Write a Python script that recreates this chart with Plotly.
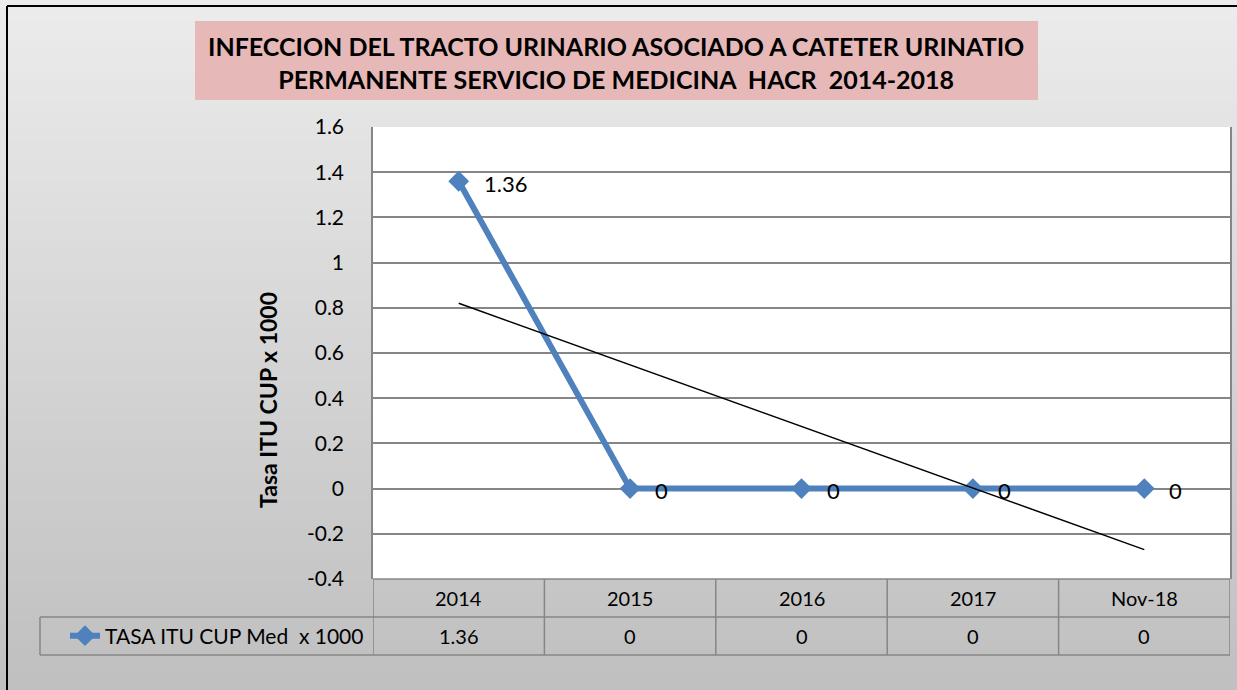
import plotly.graph_objects as go

# datos
categorias = ["2014", "2015", "2016", "2017", "Nov-18"]
tasa_itu = [1.36, 0, 0, 0, 0]
tendencia_x = ["2014", "Nov-18"]
tendencia_y = [0.82, -0.27]
ticks_y = [-0.4, -0.2, 0, 0.2, 0.4, 0.6, 0.8, 1, 1.2, 1.4, 1.6]
nombre_serie = "TASA ITU CUP Med \u00a0x 1000"
titulo = "INFECCION DEL TRACTO URINARIO ASOCIADO A CATETER URINATIO<br>PERMANENTE SERVICIO DE MEDICINA \u00a0HACR \u00a02014-2018"

W, H = 1237, 690
FONT = "Lato"
GRIS = "#868686"
AZUL = "#4f81bd"

def px(x): return x / W
def py(y): return 1 - y / H

fig = go.Figure()
fig.add_trace(go.Scatter(x=categorias, y=tasa_itu, mode="lines+markers", name=nombre_serie,
                         line=dict(color=AZUL, width=6), marker=dict(symbol="diamond", size=16, color=AZUL)))
fig.add_trace(go.Scatter(x=tendencia_x, y=tendencia_y, mode="lines", showlegend=False,
                         line=dict(color="black", width=1.5)))

shapes = []
# fondo degradado
n = 69
for i in range(n):
    t = i / (n - 1)
    c = int(236 - t * (236 - 192))
    shapes.append(dict(type="rect", xref="paper", yref="paper", x0=0, x1=1, y0=py((i + 1) * 10), y1=py(i * 10),
                       fillcolor=f"rgb({c},{c},{c})", line_width=0, layer="below"))
shapes.append(dict(type="rect", xref="paper", yref="paper", x0=px(373), x1=px(1230), y0=py(579), y1=py(127),
                   fillcolor="white", line_width=0, layer="below"))
# caja del titulo
shapes.append(dict(type="rect", xref="paper", yref="paper", x0=px(195), x1=px(1038), y0=py(100), y1=py(21),
                   fillcolor="#e6b8b7", line_width=0, layer="below"))
# borde exterior
shapes.append(dict(type="line", xref="paper", yref="paper", x0=px(7), x1=1, y0=py(6), y1=py(6), line=dict(color="black", width=2)))
shapes.append(dict(type="line", xref="paper", yref="paper", x0=px(7), x1=px(7), y0=0, y1=py(6), line=dict(color="black", width=2)))
# tabla de datos
lin = dict(color=GRIS, width=1.5)
for k in range(len(categorias) + 1):
    shapes.append(dict(type="line", xref="x", yref="paper", x0=k - 0.5, x1=k - 0.5, y0=py(655), y1=py(579), line=lin))
shapes.append(dict(type="line", xref="x", yref="paper", x0=-0.5, x1=len(categorias) - 0.5, y0=py(579), y1=py(579), line=lin))
for yy in (617, 655):
    shapes.append(dict(type="line", xref="paper", yref="paper", x0=px(40), x1=px(1230), y0=py(yy), y1=py(yy), line=lin))
shapes.append(dict(type="line", xref="paper", yref="paper", x0=px(40), x1=px(40), y0=py(655), y1=py(617), line=lin))

annotations = [
    dict(text=f"<b>{titulo}</b>", xref="paper", yref="paper", x=px(616), y=py(62), xanchor="center", yanchor="middle",
         showarrow=False, font=dict(family=FONT, size=25, color="black"), align="center"),
    dict(text="<b>Tasa ITU CUP x 1000</b>", xref="paper", yref="paper", x=px(268), y=py(400), textangle=-90,
         xanchor="center", yanchor="middle", showarrow=False, font=dict(family=FONT, size=23, color="black")),
]
for i, (c, v) in enumerate(zip(categorias, tasa_itu)):
    annotations.append(dict(text=f"{v:g}", x=i, y=v, xref="x", yref="y", xanchor="left", yanchor="middle",
                            xshift=23, yshift=-2, showarrow=False, font=dict(family=FONT, size=22, color="black")))
    annotations.append(dict(text=c, x=i, y=py(598), xref="x", yref="paper", xanchor="center", yanchor="middle",
                            showarrow=False, font=dict(family=FONT, size=20, color="black")))
    annotations.append(dict(text=f"{v:g}", x=i, y=py(636), xref="x", yref="paper", xanchor="center", yanchor="middle",
                            showarrow=False, font=dict(family=FONT, size=20, color="black")))

fig.update_layout(
    width=W, height=H, margin=dict(l=0, r=0, t=0, b=0),
    paper_bgcolor="white", plot_bgcolor="white",
    font=dict(family=FONT, size=20, color="black"),
    xaxis=dict(domain=[px(373), px(1230)], type="category", range=[-0.5, 4.5], showticklabels=False,
               showgrid=False, zeroline=False, showline=False, automargin=False),
    yaxis=dict(domain=[py(579), py(127)], range=[-0.4, 1.6], tickvals=ticks_y, ticktext=[f"{t:g}" for t in ticks_y],
               showgrid=True, gridcolor=GRIS, gridwidth=1.5, zeroline=False, showline=True, linecolor=GRIS,
               linewidth=1.5, mirror=True, ticks="outside", ticklen=23, tickcolor="rgba(0,0,0,0)",
               tickfont=dict(family=FONT, size=21), automargin=False),
    legend=dict(x=px(65), y=py(636), xanchor="left", yanchor="middle", bgcolor="rgba(0,0,0,0)",
                font=dict(family=FONT, size=21)),
    showlegend=True,
    shapes=shapes, annotations=annotations,
)

fig.write_html("out.html", config={"displayModeBar": False},
               post_script="document.body.style.margin='0';document.body.style.overflow='hidden';")
